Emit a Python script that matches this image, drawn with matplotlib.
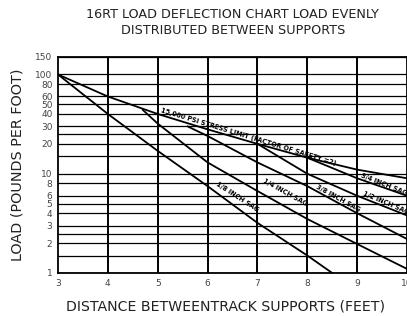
import matplotlib
matplotlib.use("Agg")
import matplotlib.pyplot as plt
import numpy as np

# ---- data ----
title = "16RT LOAD DEFLECTION CHART LOAD EVENLY\nDISTRIBUTED BETWEEN SUPPORTS"
x_label = "DISTANCE BETWEENTRACK SUPPORTS (FEET)"
y_label = "LOAD (POUNDS PER FOOT)"

x_ticks = [3, 4, 5, 6, 7, 8, 9, 10]
y_tick_values = [1, 2, 3, 4, 5, 6, 8, 10, 20, 30, 40, 50, 60, 80, 100, 150]
y_grid_values = [1, 1.5, 2, 2.5, 3, 4, 5, 6, 8, 10, 15, 20, 25, 30, 40, 50, 60, 80, 100, 150]

stress_span = [3, 4, 5, 6, 7, 8, 9, 10]
stress_load = [100, 60, 40, 28, 20, 14.5, 11, 9]

sag_18_span = [3, 4, 5, 6, 7, 8, 8.5]
sag_18_load = [100, 40, 17, 7.5, 3.2, 1.5, 1.0]

sag_14_span = [4.7, 5, 6, 7, 8, 9, 10]
sag_14_load = [44, 32, 13, 6.7, 3.5, 1.96, 1.1]

sag_38_span = [5.6, 6, 7, 8, 9, 10]
sag_38_load = [30, 24, 13, 7.5, 4.0, 2.2]

sag_12_span = [7.0, 8, 9, 10]
sag_12_load = [20, 10, 6, 3.8]

sag_34_span = [8.0, 9, 10]
sag_34_load = [14.5, 9.0, 6.0]

labels = [
    ("15,000 PSI STRESS LIMIT (FACTOR OF SAFETY =2)", 5.05, 40.5, -17),
    ("1/8 INCH SAG", 6.15, 7.6, -33),
    ("1/4 INCH SAG", 7.1, 8.0, -29),
    ("3/8 INCH SAG", 8.15, 7.1, -29),
    ("1/2 INCH SAG", 9.1, 5.9, -23),
    ("3/4 INCH SAG", 9.05, 9.0, -22),
]

# ---- figure ----
fig = plt.figure(figsize=(4.07, 3.16), dpi=100)
ax = fig.add_axes([58 / 407, 1 - 273 / 316, 1 - 58 / 407, (273 - 57) / 316])
ax.set_yscale("log")
ax.set_xlim(3, 10)
ax.set_ylim(1, 150)

for v in y_grid_values:
    ax.axhline(v, color="black", lw=0.9, zorder=1)
for v in x_ticks[1:-1]:
    ax.axvline(v, color="black", lw=1.4, zorder=1)

line_kw = dict(color="black", lw=1.3, zorder=3)
ax.plot(stress_span, stress_load, **line_kw)
ax.plot(sag_18_span, sag_18_load, **line_kw)
ax.plot(sag_14_span, sag_14_load, **line_kw)
ax.plot(sag_38_span, sag_38_load, **line_kw)
ax.plot(sag_12_span, sag_12_load, **line_kw)
ax.plot(sag_34_span, sag_34_load, **line_kw)

for txt, x, y, rot in labels:
    ax.text(x, y, txt, fontsize=4.7, fontweight="bold", rotation=rot,
            rotation_mode="anchor", ha="left", va="bottom", clip_on=True,
            family="DejaVu Sans", color="black", zorder=4)

ax.set_xticks(x_ticks)
ax.set_xticklabels([str(t) for t in x_ticks], fontsize=6.5, color="#444444")
ax.set_yticks(y_tick_values)
ax.set_yticklabels([str(t) for t in y_tick_values], fontsize=6.5, color="#444444")
ax.yaxis.set_minor_locator(matplotlib.ticker.NullLocator())
ax.tick_params(length=0, pad=4)
for s in ax.spines.values():
    s.set_linewidth(1.3)

fig.text(0.572, 1 - 8 / 316, title, ha="center", va="top", fontsize=9.2,
         color="#222222", family="DejaVu Sans", linespacing=1.3)
fig.text(0.555, 1 - 306 / 316, x_label, ha="center", va="center", fontsize=10.2,
         color="#222222", family="DejaVu Sans")
fig.text(18 / 407, 1 - 165 / 316, y_label, ha="center", va="center", rotation=90,
         fontsize=10.4, color="#222222", family="DejaVu Sans")

fig.savefig("out.png", dpi=100)
